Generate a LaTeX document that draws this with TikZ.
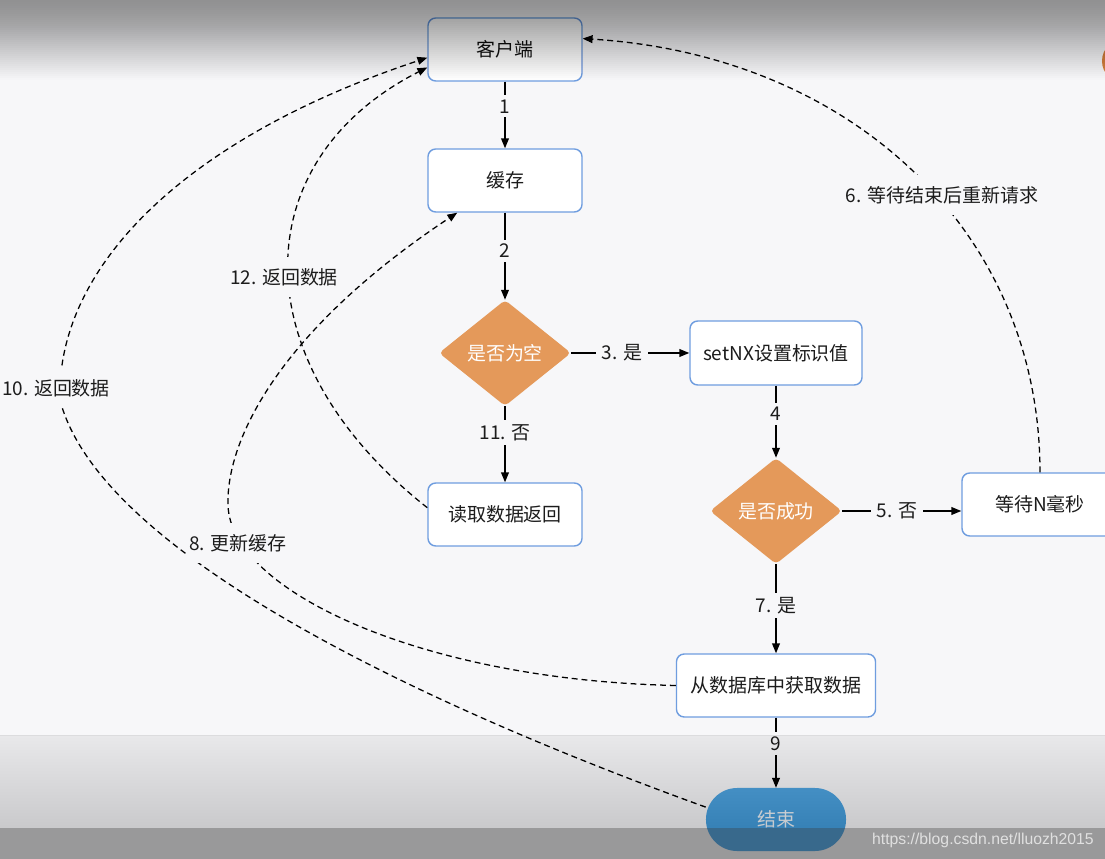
\documentclass[tikz,border=0pt]{standalone}
\usepackage{fontspec}
\setmainfont{Noto Sans CJK SC}
\newfontfamily\wmfont{Liberation Sans}
\usetikzlibrary{arrows.meta,shapes.geometric}
\definecolor{bg}{HTML}{F7F7F9}
\definecolor{boxline}{HTML}{6F9DDF}
\definecolor{dorange}{HTML}{E4995A}
\definecolor{endblue}{HTML}{5BAAE3}
\definecolor{endtext}{HTML}{F2F6FA}
\definecolor{txt}{HTML}{1C1C1C}
\definecolor{blob}{HTML}{D9823F}
\begin{document}
\begin{tikzpicture}[x=0.025cm,y=-0.025cm,
  font=\fontsize{13.5}{16}\selectfont, text=txt,
  box/.style={draw=boxline, line width=1pt, fill=white, rounded corners=5.5pt,
    minimum width=3.85cm, minimum height=1.575cm, inner sep=0pt},
  dia/.style={diamond, fill=dorange, rounded corners=3pt, minimum width=3.3cm,
    minimum height=2.65cm, inner sep=0pt, text=white},
  endn/.style={fill=endblue, rounded corners=0.78cm, minimum width=3.5cm,
    minimum height=1.575cm, inner sep=0pt, text=endtext},
  lbl/.style={fill=bg, inner xsep=4pt, inner ysep=3pt},
  dlbl/.style={fill=bg, inner xsep=2pt, inner ysep=8pt},
  conn/.style={line width=0.9pt, -{Triangle[length=7pt,width=5.5pt]}},
  dconn/.style={conn, dash pattern=on 4.2pt off 2.8pt}]

\useasboundingbox (0,0) rectangle (1105,859);
\fill[bg] (0,0) rectangle (1105,859);
\fill[blob] (1124,61) circle (22);

% nodes
\node[box] (kh) at (505,49.5) {客户端};
\node[box] (hc) at (505,180.5) {缓存};
\node[dia] (d1) at (505,353) {是否为空};
\node[box, minimum width=4.3cm, minimum height=1.6cm] (sx) at (776,353) {setNX设置标识值};
\node[dia] (d2) at (776,511) {是否成功};
\node[box, minimum width=3.9cm] (wt) at (1040,504.5) {等待N毫秒};
\node[box] (rd) at (505,514.5) {读取数据返回};
\node[box, minimum width=4.975cm] (db) at (776,685.5) {从数据库中获取数据};
\node[endn] (en) at (776,819.5) {结束};

% solid connectors
\draw[conn] (kh) -- node[lbl,pos=.37]{1} (hc);
\draw[conn] (hc) -- node[lbl,pos=.44]{2} (d1);
\draw[conn] (d1.east) -- node[lbl,pos=.43]{3. 是} (sx.west);
\draw[conn] (sx) -- node[lbl,pos=.39]{4} (d2);
\draw[conn] (d2.east) -- node[lbl,pos=.46]{5. 否} (d2.east -| wt.west);
\draw[conn] (d1) -- node[lbl,pos=.35]{11. 否} (rd);
\draw[conn] (d2) -- node[lbl,pos=.46]{7. 是} (db);
\draw[conn] (db) -- node[lbl,pos=.37]{9} (en);

% dashed connectors
\draw[dconn] (wt.north) .. controls (1040,230) and (850,55) .. (kh.8.5);
\draw[dconn] (rd.175) .. controls (240,360) and (245,160) .. (kh.193.5);
\draw[dconn] (en.170) .. controls (520,740) and (105,575) .. (60,400)
   .. controls (56,270) and (180,140) .. (kh.186.3);
\draw[dconn] (db.west) .. controls (420,680) and (230,590) .. (228,505)
   .. controls (226,440) and (280,330) .. (hc.214.7);

\node[dlbl] (l6) at (942,195) {6. 等待结束后重新请求};
\node[dlbl] (l12) at (284,277) {12. 返回数据};
\node[dlbl] (l10) at (56,388) {10. 返回数据};
\node[dlbl] (l8) at (238,543) {8. 更新缓存};

% screen overlays (top gradient, bottom bands)
\foreach \k in {1,...,40}{
  \pgfmathsetmacro\sa{1-0.38*(1-(min(1,(2*\k-1)/80))^1.4)}
  \pgfmathsetmacro\sb{1-0.38*(1-(min(1,(2*\k+1)/80))^1.4)}
  \pgfmathsetmacro\op{max(0,1-\sa/\sb)}
  \fill[black, opacity=\op] (0,0) rectangle (1105,2*\k);
}
\fill[black, opacity=0.06] (0,735) rectangle (1105,828);
\foreach \k in {1,...,31}{
  \fill[black, opacity=0.003] (0,735+3*\k) rectangle (1105,828);
}
\fill[black, opacity=0.05] (0,735) rectangle (1105,736);
\fill[black, opacity=0.38] (0,828) rectangle (1105,859);
\node[font=\wmfont\fontsize{11.2}{13}\selectfont, text=white!88!black, anchor=east, inner sep=0pt] (wm) at (1094,840) {https://blog.csdn.net/lluozh2015};
\end{tikzpicture}
\end{document}
